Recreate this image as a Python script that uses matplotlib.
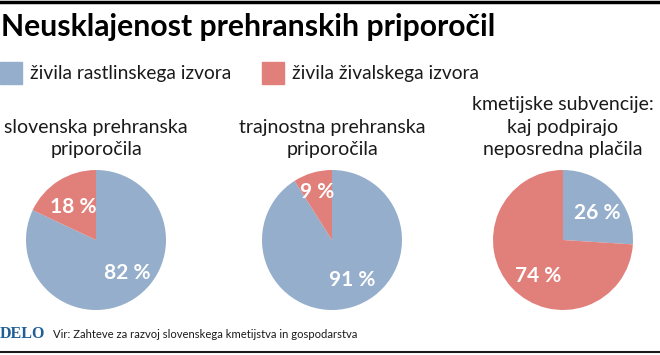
import matplotlib
matplotlib.use("Agg")
import matplotlib.pyplot as plt
from matplotlib.lines import Line2D
from matplotlib.patches import Rectangle

# Podatki
naslovi = [["slovenska prehranska", "priporočila"],
           ["trajnostna prehranska", "priporočila"],
           ["kmetijske subvencije:", "kaj podpirajo", "neposredna plačila"]]
rastlinska = [82, 91, 26]
zivalska = [18, 9, 74]
legenda = ["živila rastlinskega izvora", "živila živalskega izvora"]

MODRA = "#95aecc"
RDECA = "#e1807a"

plt.rcParams["font.family"] = ["Lato", "DejaVu Sans"]

W, H = 660, 355
fig = plt.figure(figsize=(W / 100, H / 100), dpi=100)

# Naslov
fig.text(1 / W, 1 - 27 / H, "Neusklajenost prehranskih priporočil",
         fontsize=21.7, fontweight="bold", va="center", ha="left")

# Legenda
for x0, barva, besedilo in zip([0, 262], [MODRA, RDECA], legenda):
    fig.patches.append(Rectangle((x0 / W, 1 - 84 / H), 22 / W, 22 / H,
                                 transform=fig.transFigure, color=barva))
    fig.text((x0 + 30) / W, 1 - 73 / H, besedilo, fontsize=13.8,
             va="center", ha="left", color="#1a1a1a")

# Tortni diagrami
centri = [96, 332, 563]
r = 70
cy = 240
oznake_poz = [[(0.44, -0.47), (-0.33, 0.47)],
              [(0.29, -0.57), (-0.21, 0.69)],
              [(0.49, 0.39), (-0.36, -0.51)]]

for i, cx in enumerate(centri):
    ax = fig.add_axes([(cx - r) / W, 1 - (cy + r) / H, 2 * r / W, 2 * r / H])
    ax.pie([rastlinska[i], zivalska[i]], colors=[MODRA, RDECA],
           startangle=90, counterclock=False, radius=1,
           wedgeprops={"linewidth": 0})
    ax.set_aspect("auto")
    ax.set_xlim(-1, 1)
    ax.set_ylim(-1, 1)
    ax.axis("off")
    for (tx, ty), v in zip(oznake_poz[i], [rastlinska[i], zivalska[i]]):
        ax.text(tx, ty, f"{v} %", color="white", fontsize=15,
                fontweight="bold", ha="center", va="center")

    # naslov nad tortico, vrstica za vrstico
    vrstice = naslovi[i]
    for j, vrstica in enumerate(vrstice):
        y = 150 - 23 * (len(vrstice) - 1 - j)
        fig.text(cx / W, 1 - y / H, vrstica, fontsize=14,
                 ha="center", va="center", color="#1a1a1a")

# Noga
fig.text(0 / W, 1 - 334 / H, "DELO", fontsize=11.5, fontweight="bold",
         family="Liberation Serif", color="#1f5f96", va="center", ha="left")
fig.text(53 / W, 1 - 334 / H,
         "Vir: Zahteve za razvoj slovenskega kmetijstva in gospodarstva",
         fontsize=8.1, va="center", ha="left", color="#1a1a1a")

# Črti zgoraj in spodaj
fig.lines.append(Line2D([0, 1], [1 - 1.5 / H] * 2, transform=fig.transFigure,
                        color="black", linewidth=2.5))
fig.lines.append(Line2D([0, 1], [1 - 352 / H] * 2, transform=fig.transFigure,
                        color="#1a1a1a", linewidth=1.5))

fig.savefig("out.png", dpi=100)
